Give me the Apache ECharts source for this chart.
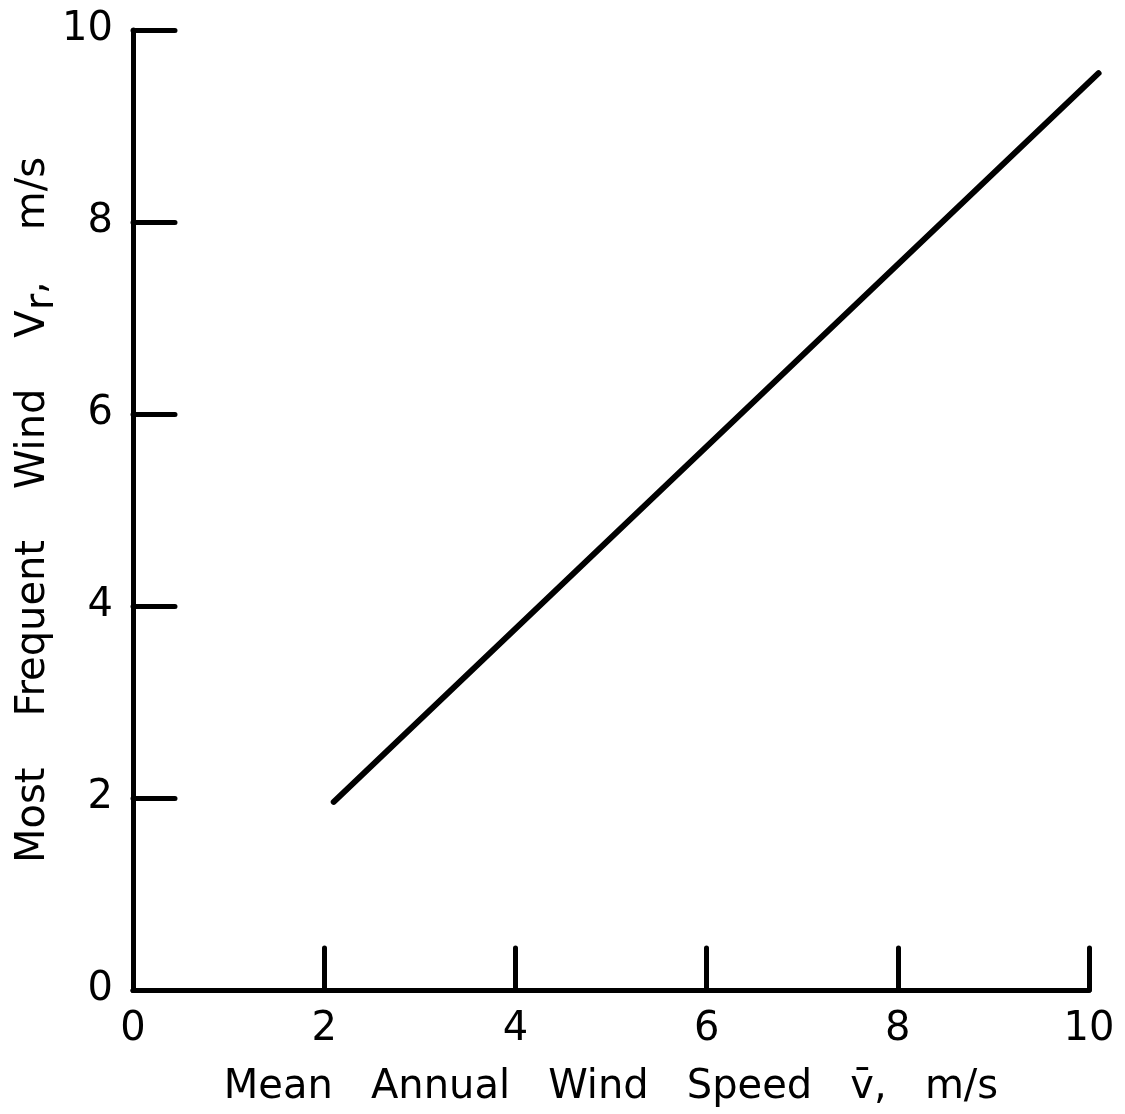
<!DOCTYPE html>
<html>
<head>
<meta charset="utf-8">
<script src="https://cdn.jsdelivr.net/npm/echarts@6/dist/echarts.min.js"></script>
<style>
html,body{margin:0;padding:0;background:#fff;}
#chart{width:1125px;height:1114px;}
</style>
</head>
<body>
<div id="chart"></div>
<script>
// Data
const lineX = [2.1, 10.1];
const lineY = [1.96, 9.55];
const xTitle = 'Mean   Annual   Wind   Speed   v\u0304,   m/s';
const yTitle = 'Most    Frequent    Wind    V{s|r},    m/s';

const FONT = 'DejaVu Sans';
const W = 1125, L = 133, R = 36;
const unitPx = (W - L - R) / 10;
const overMax = 10.2;
const R2 = W - L - unitPx * overMax;

const chart = echarts.init(document.getElementById('chart'), null, {renderer: 'canvas'});
const axisCommon = {
  type: 'value', min: 0, max: 10, interval: 2,
  axisLine: {show: true, lineStyle: {color: '#000', width: 5, cap: 'round'}},
  axisTick: {show: true, inside: true, length: 42, lineStyle: {color: '#000', width: 5, cap: 'round'}},
  splitLine: {show: false},
  axisLabel: {color: '#000', fontFamily: FONT, fontSize: 40},
  nameLocation: 'middle',
  nameMoveOverlap: false,
  nameTextStyle: {color: '#000', fontFamily: FONT, fontSize: 40}
};
chart.setOption({
  animation: false,
  backgroundColor: '#fff',
  grid: [
    {left: L, right: R, top: 30, bottom: 124, containLabel: false, outerBoundsMode: 'none'},
    {left: L, right: R2, top: 30, bottom: 124, containLabel: false, outerBoundsMode: 'none'}
  ],
  xAxis: [
    Object.assign({}, axisCommon, {
      gridIndex: 0, name: xTitle, nameGap: 78,
      axisLabel: Object.assign({}, axisCommon.axisLabel, {margin: 20})
    }),
    {type: 'value', gridIndex: 1, min: 0, max: overMax, show: false}
  ],
  yAxis: [
    Object.assign({}, axisCommon, {
      gridIndex: 0, name: yTitle, nameGap: 70,
      axisLabel: Object.assign({}, axisCommon.axisLabel, {margin: 20}),
      nameTextStyle: Object.assign({}, axisCommon.nameTextStyle, {
        rich: {s: {fontFamily: FONT, fontSize: 40, color: '#000', padding: [18, 0, 0, 0]}}
      })
    }),
    {type: 'value', gridIndex: 1, min: 0, max: 10, show: false}
  ],
  series: [{
    type: 'line',
    xAxisIndex: 1, yAxisIndex: 1,
    data: lineX.map((x, i) => [x, lineY[i]]),
    showSymbol: false,
    clip: false,
    lineStyle: {color: '#000', width: 6, cap: 'round'}
  }]
});
</script>
</body>
</html>
